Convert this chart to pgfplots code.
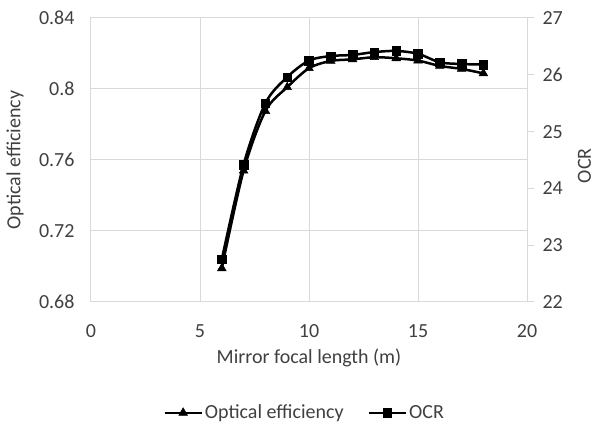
\documentclass[border=0pt]{standalone}
\usepackage{pgfplots}
\pgfplotsset{compat=1.18}
\usepackage{fontspec}
\setmainfont{Carlito}
\definecolor{txt}{HTML}{404040}
\definecolor{gridc}{HTML}{D9D9D9}
\begin{document}
\begin{tikzpicture}[font=\fontsize{20}{24}\selectfont]
\path[use as bounding box] (0,0) rectangle (597pt,425pt);
\pgfplotsset{
  every axis/.append style={
    at={(91pt,123pt)}, anchor=south west,
    scale only axis, width=436pt, height=284pt,
    xmin=0, xmax=20,
    /pgf/number format/assume math mode=true,
    tick label style={text=txt, font=\fontsize{20}{24}\selectfont},
    label style={text=txt, font=\fontsize{20}{24}\selectfont},
  },
}
\begin{axis}[
  ymin=0.68, ymax=0.84,
  ytick={0.68,0.72,0.76,0.8,0.84},
  yticklabels={0.68,0.72,0.76,0.8,0.84},
  xtick={0,5,10,15,20},
  major tick length=0pt,
  grid=major,
  major grid style={gridc, line width=1pt},
  axis line style={gridc, line width=1pt},
  yticklabel style={xshift=-13pt},
  xticklabel style={yshift=-19pt},
  xlabel={Mirror focal length (m)},
  ylabel={Optical efficiency},
  xlabel style={at={(axis description cs:0.5,-0.197)}, anchor=center},
  ylabel style={at={(axis description cs:-0.174,0.5)}, anchor=center, rotate=0},
  legend columns=2,
  legend style={draw=none, fill=none, inner sep=0pt, at={(0.49,-0.39)}, anchor=center,
    font=\fontsize{20}{24}\selectfont, text=txt,
    /tikz/every even column/.append style={column sep=22pt},
    cells={anchor=west, inner sep=1pt}},
  legend image code/.code={
    \draw[#1] (0pt,0pt) -- (37pt,0pt);
    \draw[#1, only marks] plot coordinates {(18.5pt,0pt)};
  },
]
\addplot[black, line width=2.5pt, smooth, mark=triangle*, mark size=5pt,
  mark options={solid, line width=0.5pt}] coordinates {
  (6,0.699) (7,0.754) (8,0.7876) (9,0.801) (10,0.8117) (11,0.8158) (12,0.8167)
  (13,0.8179) (14,0.8173) (15,0.816) (16,0.813) (17,0.8113) (18,0.8088)
};
\addlegendentry{Optical efficiency}
\addlegendimage{black, line width=2.5pt, mark=square*, mark size=4.3pt, mark options={solid, line width=0.5pt}}
\addlegendentry{OCR}
\end{axis}
\begin{axis}[
  ymin=22, ymax=27,
  ytick={22,23,24,25,26,27},
  axis x line=none,
  axis y line*=right,
  axis line style={gridc, line width=1pt},
  ytick style={gridc, line width=1pt},
  major tick length=7pt,
  tick align=outside,
  yticklabel style={xshift=5pt},
  ylabel={OCR},
  ylabel style={at={(axis description cs:1.132,0.48)}, anchor=center, inner sep=0pt},
]
\addplot[black, line width=2.5pt, smooth, mark=square*, mark size=4.3pt,
  mark options={solid, line width=0.5pt}] coordinates {
  (6,22.75) (7,24.42) (8,25.50) (9,25.96) (10,26.25) (11,26.33) (12,26.35)
  (13,26.40) (14,26.42) (15,26.37) (16,26.22) (17,26.19) (18,26.18)
};
\end{axis}
\end{tikzpicture}
\end{document}
